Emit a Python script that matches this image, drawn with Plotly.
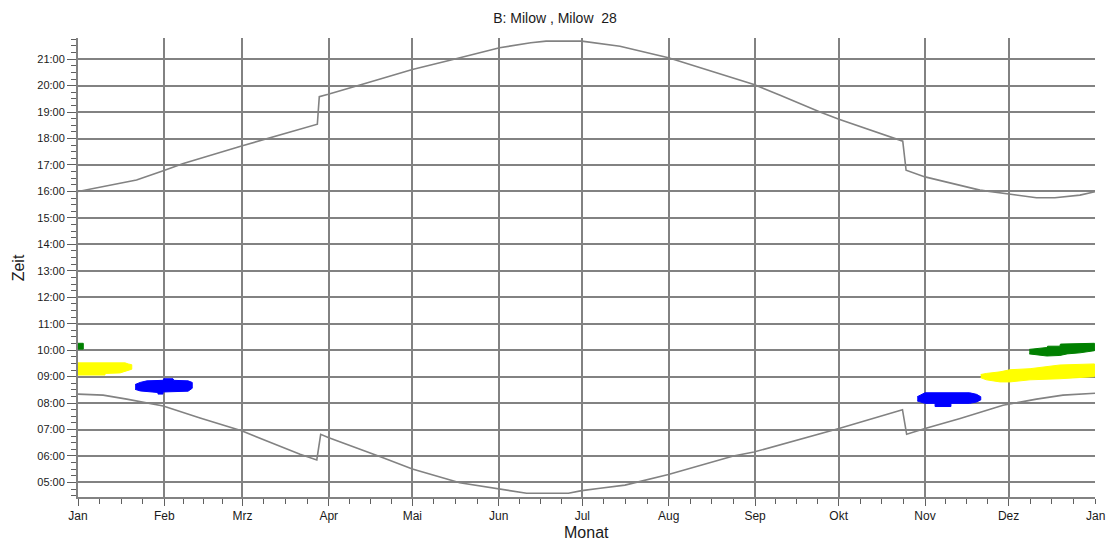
import plotly.graph_objects as go

# ---- data (day of year, hours) ----
month_labels = ["Jan", "Feb", "Mrz", "Apr", "Mai", "Jun", "Jul", "Aug", "Sep", "Okt", "Nov", "Dez", "Jan"]
month_starts = [0, 31, 59, 90, 120, 151, 181, 212, 243, 273, 304, 334, 365]
hour_ticks = list(range(5, 22))
hour_labels = [f"{h:02d}:00" for h in hour_ticks]

sunset_days = [0, 21, 30.6, 37.8, 58.7, 79.7, 85.9, 86.6, 89.8, 102.4, 120, 133.5, 144.3, 151.3,
               162.5, 168, 180.8, 194.5, 211.9, 228, 242.6, 252, 266.3, 273.1, 287.8, 296, 297.2,
               304, 323.7, 334, 344, 350.6, 359.6, 365]
sunset_hours = [16.0, 16.43, 16.78, 17.06, 17.72, 18.34, 18.54, 19.58, 19.67, 20.06, 20.61, 20.96,
                21.24, 21.43, 21.62, 21.68, 21.68, 21.49, 21.05, 20.52, 20.04, 19.64, 19.0, 18.73,
                18.19, 17.9, 16.80, 16.55, 16.05, 15.89, 15.76, 15.76, 15.86, 15.99]

sunrise_days = [0, 9, 17.5, 30.6, 43.8, 58.7, 79.7, 85.7, 87.1, 89.8, 109, 120, 137, 151.3, 161,
                176, 180.8, 187.4, 196.3, 211.9, 235.2, 242.6, 273.1, 295.9, 297.4, 304, 316.6,
                332, 344, 353.5, 365]
sunrise_hours = [8.34, 8.30, 8.15, 7.89, 7.44, 6.95, 6.07, 5.85, 6.82, 6.70, 5.95, 5.51, 4.99, 4.74,
                 4.59, 4.59, 4.69, 4.78, 4.90, 5.30, 6.0, 6.15, 7.04, 7.75, 6.82, 7.04, 7.42, 7.92,
                 8.15, 8.30, 8.37]

# shadow periods (outline polygons)
green_jan_days = [0, 1.9, 1.9, 0]
green_jan_hours = [10.04, 10.04, 10.26, 10.26]

yellow_jan_days = [0, 16.9, 18.0, 19.3, 19.3, 17.5, 15.1, 9.7, 9.7, 0]
yellow_jan_hours = [9.52, 9.52, 9.48, 9.45, 9.28, 9.22, 9.14, 9.12, 9.06, 9.06]

blue_feb_days = [20.5, 22.3, 24.7, 30.5, 30.8, 34.1, 34.4, 39.5, 41, 41, 39.5, 30.5, 30.5, 28.7,
                 28.7, 24.7, 22.3, 20.5]
blue_feb_hours = [8.70, 8.78, 8.84, 8.86, 8.92, 8.92, 8.86, 8.84, 8.78, 8.56, 8.45, 8.42, 8.34,
                  8.34, 8.40, 8.42, 8.46, 8.52]

blue_nov_days = [301.2, 302.8, 304, 320, 322.5, 324, 324, 322.5, 320, 313.3, 313.3, 307.6, 307.6,
                 304, 302.8, 301.2]
blue_nov_hours = [8.24, 8.33, 8.39, 8.39, 8.33, 8.24, 8.12, 8.04, 7.99, 7.99, 7.87, 7.87, 7.99,
                  7.99, 8.03, 8.08]

yellow_dec_days = [324, 326, 330.9, 334.5, 341.7, 352.4, 364.8, 364.8, 352.4, 341.7, 334.5, 330.9,
                   326, 324]
yellow_dec_hours = [9.08, 9.12, 9.18, 9.26, 9.30, 9.44, 9.48, 9.0, 8.92, 8.88, 8.80, 8.80, 8.88,
                    8.96]

green_dec_days = [341.4, 347.7, 348, 352.4, 352.6, 364.8, 364.8, 359.6, 355, 352.4, 347.7, 343,
                  341.4]
green_dec_hours = [10.03, 10.10, 10.15, 10.15, 10.23, 10.26, 9.98, 9.90, 9.86, 9.80, 9.78, 9.82,
                   9.86]

GRAY = "#828282"
TICKC = "#606060"

fig = go.Figure()

for d, h in [(sunset_days, sunset_hours), (sunrise_days, sunrise_hours)]:
    fig.add_trace(go.Scatter(x=d, y=h, mode="lines", line=dict(color=GRAY, width=1.6),
                             hoverinfo="skip", showlegend=False))

blobs = [
    (green_jan_days, green_jan_hours, "#008000"),
    (yellow_jan_days, yellow_jan_hours, "#FFFF00"),
    (blue_feb_days, blue_feb_hours, "#0000FF"),
    (blue_nov_days, blue_nov_hours, "#0000FF"),
    (yellow_dec_days, yellow_dec_hours, "#FFFF00"),
    (green_dec_days, green_dec_hours, "#008000"),
]
for d, h, c in blobs:
    fig.add_trace(go.Scatter(x=d, y=h, mode="lines", fill="toself", fillcolor=c,
                             line=dict(color=c, width=1), hoverinfo="skip", showlegend=False))

# minor ticks on x: each month split into four parts; the year-end tick has no grid line
x_minor = []
for a, b in zip(month_starts[:-1], month_starts[1:]):
    for k in (1, 2, 3):
        x_minor.append(a + k * (b - a) / 4)
x_minor.append(month_starts[-1])

fig.update_layout(
    width=1110, height=542, autosize=False,
    margin=dict(l=78, r=15, t=38, b=45, autoexpand=False),
    paper_bgcolor="white", plot_bgcolor="white",
    font=dict(family="Liberation Sans, Arial, sans-serif", color="#1a1a1a"),
    title=dict(text="B: Milow , Milow  28", x=0.5, xref="container", xanchor="center",
               y=1 - 18 / 542, yref="container", yanchor="middle",
               font=dict(size=14, color="#1a1a1a")),
    xaxis=dict(range=[0, 365], tickmode="array", tickvals=month_starts[:-1],
               ticktext=month_labels[:-1], automargin=False,
               showgrid=True, gridcolor=GRAY, gridwidth=2, zeroline=False,
               showline=True, linecolor=GRAY, linewidth=2,
               ticks="outside", ticklen=7, tickwidth=1, tickcolor=TICKC,
               tickfont=dict(size=12),
               minor=dict(tickmode="array", tickvals=x_minor, ticks="outside", ticklen=5,
                          tickwidth=1, tickcolor=TICKC, showgrid=False)),
    yaxis=dict(range=[4.45, 21.8], tickmode="array", tickvals=hour_ticks, ticktext=hour_labels,
               automargin=False,
               showgrid=True, gridcolor=GRAY, gridwidth=2, zeroline=False,
               showline=True, linecolor=GRAY, linewidth=2,
               ticks="outside", ticklen=9, tickwidth=1, tickcolor=TICKC,
               tickfont=dict(size=11),
               minor=dict(dtick=0.25, tick0=0, ticks="outside", ticklen=5, tickwidth=1,
                          tickcolor=TICKC, showgrid=False)),
    annotations=[
        dict(text=month_labels[-1], xref="x", yref="paper", x=month_starts[-1],
             y=-(516 - 497) / 459, xanchor="center", yanchor="middle", showarrow=False,
             font=dict(size=12)),
        dict(text="Monat", xref="paper", yref="paper", x=0.5, y=-(532 - 497) / 459,
             xanchor="center", yanchor="middle", showarrow=False, font=dict(size=16)),
        dict(text="Zeit", xref="paper", yref="paper", x=(18.8 - 78) / 1017, y=0.5,
             xanchor="center", yanchor="middle", textangle=-90, showarrow=False,
             font=dict(size=16)),
    ],
)

fig.write_html("out.html",
               config={"displayModeBar": False, "responsive": False},
               post_script="document.body.style.margin='0';document.body.style.overflow='hidden';")
